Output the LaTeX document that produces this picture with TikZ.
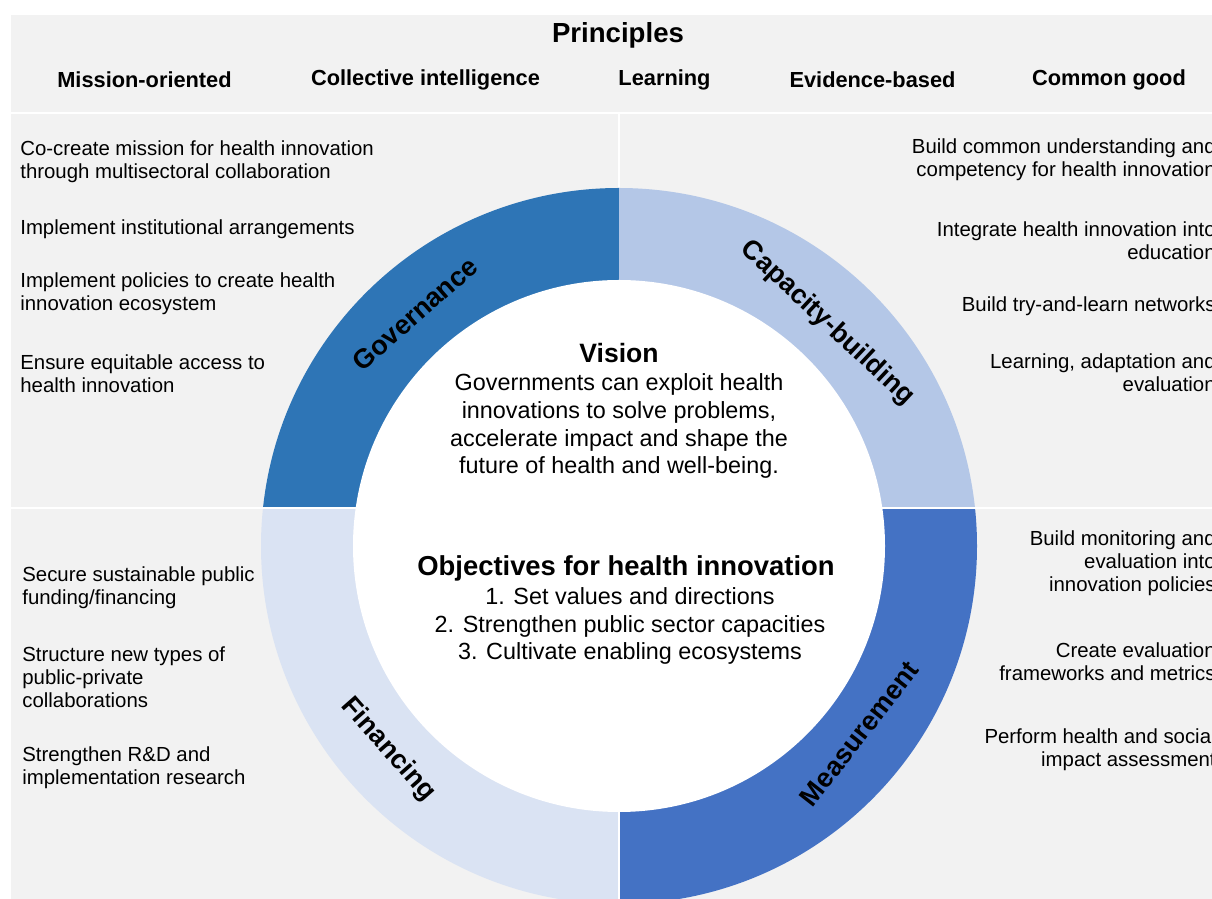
\documentclass[tikz,border=0pt]{standalone}
\usepackage{fontspec}
\setmainfont{Liberation Sans}
\definecolor{panelgray}{HTML}{F2F2F2}
\definecolor{govblue}{HTML}{2E75B6}
\definecolor{capblue}{HTML}{B4C7E7}
\definecolor{finblue}{HTML}{DAE3F3}
\definecolor{meablue}{HTML}{4472C4}
\newcommand{\itemfont}{\fontsize{11.6}{13.1}\selectfont}
\newcommand{\bodyfont}{\fontsize{13.3}{15.9}\selectfont}

\begin{document}
\begin{tikzpicture}[
  item/.style={inner sep=0pt, font=\itemfont},
  leftitem/.style={item, anchor=west, align=left},
  rightitem/.style={item, anchor=east, align=right},
  principle/.style={inner sep=0pt, font=\fontsize{12.4}{14}\selectfont\bfseries},
  ringlabel/.style={inner sep=0pt, font=\fontsize{15.4}{17}\selectfont\bfseries},
  gap/.style={white, line width=1.2pt}
]
\useasboundingbox (0,0) rectangle (24.24,17.98);
\fill[white] (0,0) rectangle (24.24,17.98);
\fill[panelgray] (0.22,0) rectangle (24.24,17.68);
\draw[gap] (0.22,15.72) -- (24.24,15.72);
\draw[gap] (12.38,15.72) -- (12.38,13.5);

% ring quadrants
\coordinate (ctr) at (12.38,7.06);
\begin{scope}
  \clip (0,7.82) rectangle (12.38,17.98);
  \fill[govblue] (ctr) circle (7.16);
\end{scope}
\begin{scope}
  \clip (12.38,7.82) rectangle (24.24,17.98);
  \fill[capblue] (ctr) circle (7.16);
\end{scope}
\begin{scope}
  \clip (0,0) rectangle (12.38,7.82);
  \fill[finblue] (ctr) circle (7.16);
\end{scope}
\begin{scope}
  \clip (12.38,0) rectangle (24.24,7.82);
  \fill[meablue] (ctr) circle (7.16);
\end{scope}
\draw[gap] (0.22,7.82) -- (24.24,7.82);
\draw[gap] (12.38,7.82) -- (12.38,0);
\fill[white] (ctr) circle (5.32);

\node[ringlabel, rotate=41.3] (gov) at ([shift={(131.3:6.18)}]ctr) {Governance};
\node[ringlabel, rotate=-43.1] (cap) at ([shift={(46.9:6.1)}]ctr) {Capacity-building};
\node[ringlabel, rotate=-48.6] (fin) at ([shift={(221.4:6.16)}]ctr) {Financing};
\node[ringlabel, rotate=52] (mea) at ([shift={(-38:6.1)}]ctr) {Measurement};

% principles
\node[inner sep=0pt, font=\fontsize{15.7}{18}\selectfont\bfseries] (princ) at (12.36,17.28) {Principles};
\node[principle] (p1) at (2.89,16.38) {Mission-oriented};
\node[principle] (p2) at (8.51,16.38) {Collective intelligence};
\node[principle] (p3) at (13.29,16.38) {Learning};
\node[principle] (p4) at (17.45,16.38) {Evidence-based};
\node[principle] (p5) at (22.18,16.38) {Common good};

% governance actions
\node[leftitem] (g1) at (0.40,14.75) {Co-create mission for health innovation\\through multisectoral collaboration};
\node[leftitem] (g2) at (0.40,13.40) {Implement institutional arrangements};
\node[leftitem] (g3) at (0.40,12.10) {Implement policies to create health\\innovation ecosystem};
\node[leftitem] (g4) at (0.40,10.51) {Ensure equitable access to\\health innovation};

% capacity-building actions
\node[rightitem] (c1) at (24.32,14.79) {Build common understanding and\\competency for health innovation};
\node[rightitem] (c2) at (24.32,13.17) {Integrate health innovation into\\education};
\node[rightitem] (c3) at (24.32,11.86) {Build try-and-learn networks};
\node[rightitem] (c4) at (24.32,10.53) {Learning, adaptation and\\evaluation};

% financing actions
\node[leftitem] (f1) at (0.44,6.22) {Secure sustainable public\\funding/financing};
\node[leftitem] (f2) at (0.44,4.44) {Structure new types of\\public-private\\collaborations};
\node[leftitem] (f3) at (0.44,2.63) {Strengthen R\&D and\\implementation research};

% measurement actions
\node[rightitem] (m1) at (24.32,6.72) {Build monitoring and\\evaluation into\\innovation policies};
\node[rightitem] (m2) at (24.32,4.75) {Create evaluation\\frameworks and metrics};
\node[rightitem] (m3) at (24.32,2.99) {Perform health and social\\impact assessment};

% centre
\node[inner sep=0pt, font=\fontsize{15.1}{18}\selectfont\bfseries] (vis) at (12.38,10.92) {Vision};
\node[inner sep=0pt, align=center, font=\bodyfont] (vistext) at (12.38,9.46) {Governments can exploit health\\innovations to solve problems,\\accelerate impact and shape the\\future of health and well-being.};
\node[inner sep=0pt, font=\fontsize{15.6}{18}\selectfont\bfseries] (obj) at (12.52,6.62) {Objectives for health innovation};
\node[inner sep=0pt, align=center, font=\bodyfont] (objtext) at (12.6,5.46) {1. Set values and directions\\2. Strengthen public sector capacities\\3. Cultivate enabling ecosystems};

\end{tikzpicture}
\end{document}
